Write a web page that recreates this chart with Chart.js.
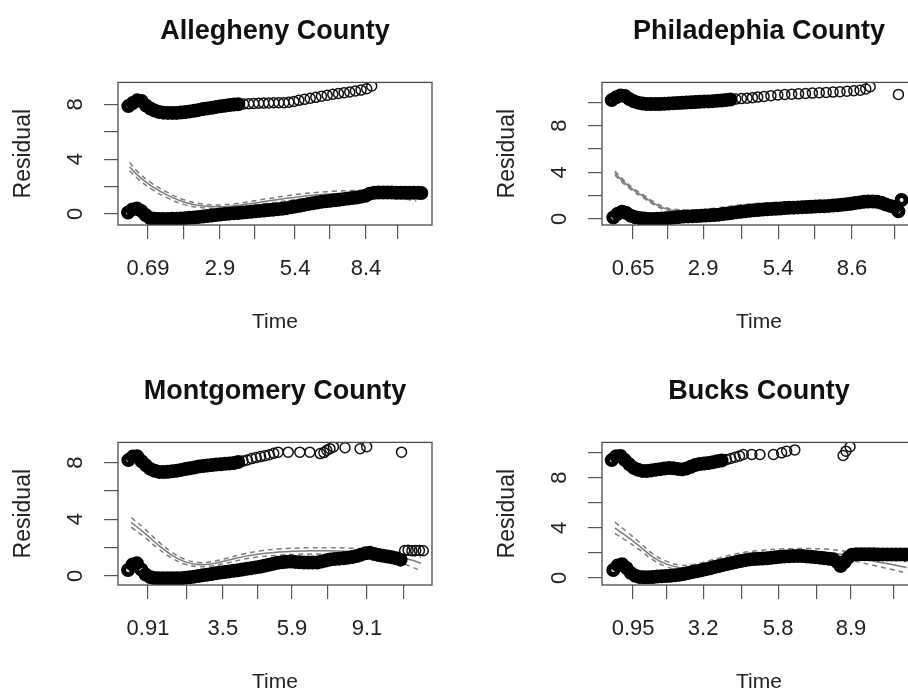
<!DOCTYPE html>
<html><head><meta charset="utf-8">
<script src="https://cdn.jsdelivr.net/npm/chart.js@4.4.1/dist/chart.umd.min.js"></script>
<style>
html,body{margin:0;padding:0;background:#fff;overflow:hidden;width:908px;height:693px;position:relative;}
canvas{position:absolute;}
</style></head><body>
<canvas id="c1" width="454" height="346" style="left:0px;top:0px"></canvas>
<canvas id="c2" width="454" height="346" style="left:484px;top:0px"></canvas>
<canvas id="c3" width="454" height="346" style="left:0px;top:360px"></canvas>
<canvas id="c4" width="454" height="346" style="left:484px;top:360px"></canvas>
<script>
// ---------- Allegheny County ----------
const alleghenyLowerX = [3.2,4.6,6.0,7.4,8.8,10.2,11.6,13.0,14.4,15.8,17.2,18.6,20.0,21.4,22.8,24.2,25.6,27.0,28.4,29.8,31.2,32.6,34.0,35.4,36.8,38.2,39.6,41.0,42.4,43.8,45.2,46.6,48.0,49.4,50.8,52.2,53.6,55.0,56.4,57.8,59.2,60.6,62.0,63.4,64.8,66.2,67.6,69.0,70.4,71.8,73.2,74.6,76.0,77.4,78.8,80.2,81.6,83.0,84.4,85.8,87.2,88.6,90.0,91.4,92.8,94.2,95.6,96.6];
const alleghenyLowerY = [0.10,0.33,0.40,0.22,-0.08,-0.30,-0.36,-0.38,-0.38,-0.37,-0.36,-0.35,-0.33,-0.31,-0.28,-0.26,-0.22,-0.19,-0.16,-0.12,-0.08,-0.04,-0.01,0.02,0.05,0.07,0.10,0.13,0.16,0.19,0.22,0.25,0.28,0.31,0.35,0.38,0.42,0.48,0.54,0.60,0.66,0.72,0.78,0.83,0.88,0.92,0.96,1.00,1.04,1.08,1.12,1.16,1.20,1.26,1.32,1.48,1.55,1.56,1.56,1.56,1.56,1.55,1.55,1.55,1.54,1.54,1.54,1.53];
const alleghenyUpperX = [3.3,4.7,6.1,7.5,8.9,10.3,11.7,13.1,14.5,15.9,17.3,18.7,20.1,21.5,22.9,24.3,25.7,27.1,28.5,29.9,31.3,32.7,34.1,35.5,36.9,38.3];
const alleghenyUpperY = [7.88,8.10,8.30,8.25,7.92,7.70,7.55,7.45,7.40,7.38,7.38,7.38,7.41,7.45,7.49,7.54,7.60,7.66,7.71,7.76,7.82,7.87,7.91,7.95,7.99,8.01];
const alleghenyOpenX = [40.0,41.6,43.2,44.8,46.4,48.0,49.6,51.2,52.8,54.4,56.0,57.6,59.4,61.2,63.0,64.8,66.6,68.4,70.2,72.0,73.8,75.6,77.4,79.2,80.8];
const alleghenyOpenY = [8.03,8.05,8.07,8.09,8.10,8.11,8.12,8.12,8.13,8.16,8.22,8.30,8.37,8.45,8.52,8.60,8.67,8.74,8.80,8.86,8.91,8.98,9.05,9.15,9.35];
const alleghenyFitX = [3.7,6.4,10.6,15.9,21.2,26.5,31.8,37.2,42.5,47.8,53.1,58.4,63.7,69.0,74.3,79.6,84.9,90.2,95.0];
const alleghenyFit = [3.45,2.80,2.05,1.35,0.85,0.60,0.52,0.60,0.76,0.95,1.12,1.28,1.40,1.48,1.52,1.53,1.48,1.38,1.25];
const alleghenyFitHi = [3.75,3.05,2.27,1.55,1.02,0.74,0.65,0.74,0.92,1.12,1.30,1.46,1.58,1.66,1.71,1.73,1.70,1.63,1.55];
const alleghenyFitLo = [3.15,2.55,1.83,1.15,0.68,0.46,0.39,0.46,0.60,0.78,0.94,1.10,1.22,1.30,1.33,1.33,1.26,1.13,0.95];
const alleghenyTickPos = [9.55,21.0,32.5,43.6,56.4,67.5,79.0,88.9];
const alleghenyTickLabels = ['0.69','','2.9','','5.4','','8.4',''];
const alleghenyYTicks = [0,2,4,6,8];
const alleghenyYLabels = ['0','','4','','8'];

// ---------- Philadelphia County ----------
const philadelphiaLowerX = [3.6,5.0,6.4,7.8,9.2,10.6,12.0,13.4,14.8,16.2,17.6,19.0,20.4,21.8,23.2,24.6,26.0,27.4,28.8,30.2,31.6,33.0,34.4,35.8,37.2,38.6,40.0,41.4,42.8,44.2,45.6,47.0,48.4,49.8,51.2,52.6,54.0,55.4,56.8,58.2,59.6,61.0,62.4,63.8,65.2,66.6,68.0,69.4,70.8,72.2,73.6,75.0,76.4,77.8,79.2,80.6,82.0,83.4,84.8,86.2,87.6,89.0,90.4,91.8,93.2,94.4,95.4];
const philadelphiaLowerY = [0.12,0.45,0.62,0.50,0.28,0.15,0.08,0.03,0.00,-0.01,0.01,0.03,0.06,0.09,0.12,0.16,0.20,0.22,0.24,0.25,0.27,0.29,0.31,0.33,0.37,0.42,0.47,0.52,0.57,0.62,0.66,0.70,0.74,0.77,0.80,0.83,0.86,0.88,0.90,0.93,0.95,0.97,0.99,1.01,1.02,1.04,1.06,1.08,1.10,1.12,1.15,1.18,1.22,1.26,1.30,1.36,1.42,1.47,1.50,1.50,1.48,1.38,1.24,1.12,1.02,0.65,1.62];
const philadelphiaUpperX = [3.1,4.5,5.9,7.3,8.7,10.1,11.5,12.9,14.3,15.7,17.1,18.5,19.9,21.3,22.7,24.1,25.5,26.9,28.3,29.7,31.1,32.5,33.9,35.3,36.7,38.1,39.5,40.9];
const philadelphiaUpperY = [10.20,10.45,10.60,10.55,10.30,10.10,9.98,9.90,9.87,9.86,9.86,9.87,9.89,9.91,9.93,9.95,9.97,9.99,10.01,10.03,10.05,10.07,10.09,10.11,10.14,10.17,10.21,10.25];
const philadelphiaOpenX = [42.6,44.4,46.2,47.9,49.6,51.6,53.8,56.0,58.2,60.4,62.6,64.8,67.0,69.2,71.4,73.6,75.8,78.0,80.2,82.2,84.0,85.4,94.4];
const philadelphiaOpenY = [10.29,10.33,10.37,10.41,10.46,10.52,10.58,10.64,10.68,10.71,10.74,10.77,10.80,10.83,10.86,10.89,10.92,10.96,11.00,11.05,11.15,11.35,10.69];
const philadelphiaFitX = [4.1,6.8,10.0,13.2,16.3,19.5,22.7,27.0,31.0,35.0,40.0,45.0,50.0,55.0,60.0,65.0,70.0,75.0,80.0,85.0,90.0,95.0];
const philadelphiaFit = [3.94,3.20,2.50,1.93,1.38,0.95,0.72,0.62,0.64,0.75,0.92,1.08,1.18,1.25,1.30,1.33,1.36,1.39,1.41,1.40,1.34,1.25];
const philadelphiaFitHi = [4.12,3.36,2.64,2.06,1.50,1.07,0.84,0.74,0.77,0.89,1.07,1.24,1.35,1.42,1.47,1.50,1.53,1.56,1.59,1.60,1.56,1.50];
const philadelphiaFitLo = [3.76,3.04,2.36,1.80,1.26,0.83,0.60,0.50,0.51,0.61,0.77,0.92,1.01,1.08,1.13,1.16,1.19,1.22,1.23,1.20,1.12,1.00];
const philadelphiaTickPos = [9.9,21.0,32.2,44.6,56.1,67.8,79.6,93.3];
const philadelphiaTickLabels = ['0.65','','2.9','','5.4','','8.6',''];
const philadelphiaYTicks = [0,2,4,6,8,10];
const philadelphiaYLabels = ['0','','4','','8',''];

// ---------- Montgomery County ----------
const montgomeryLowerX = [3.2,4.6,6.0,7.4,8.8,10.2,11.6,13.0,14.4,15.8,17.2,18.6,20.0,21.4,22.8,24.2,25.6,27.0,28.4,29.8,31.2,32.6,34.0,35.4,36.8,38.2,39.6,41.0,42.4,43.8,45.2,46.6,48.0,49.4,50.8,52.2,53.6,55.0,56.4,57.8,59.2,60.6,62.0,63.4,64.8,66.2,67.6,69.0,70.4,71.8,73.2,74.6,76.0,77.4,78.8,80.2,81.6,83.0,84.4,85.8,87.2,88.6,90.0];
const montgomeryLowerY = [0.42,0.80,0.90,0.45,0.10,-0.08,-0.15,-0.17,-0.17,-0.17,-0.17,-0.17,-0.16,-0.13,-0.09,-0.05,0.00,0.04,0.09,0.14,0.19,0.24,0.28,0.32,0.36,0.40,0.45,0.50,0.55,0.60,0.65,0.72,0.79,0.86,0.93,0.97,1.00,1.01,0.99,0.96,0.94,0.94,0.94,0.95,1.01,1.09,1.16,1.20,1.22,1.25,1.29,1.33,1.40,1.50,1.60,1.63,1.55,1.48,1.42,1.37,1.31,1.24,1.15];
const montgomeryUpperX = [3.3,4.7,6.1,7.5,8.9,10.3,11.7,13.1,14.5,15.9,17.3,18.7,20.1,21.5,22.9,24.3,25.7,27.1,28.5,29.9,31.3,32.7,34.1,35.5,36.9,38.3];
const montgomeryUpperY = [8.17,8.42,8.45,8.09,7.80,7.55,7.42,7.34,7.33,7.35,7.38,7.42,7.48,7.54,7.59,7.65,7.72,7.76,7.79,7.82,7.86,7.88,7.91,7.94,7.97,8.04];
const montgomeryOpenX = [39.8,41.2,42.6,44.0,45.4,46.8,48.2,49.6,51.0,54.2,57.9,61.1,64.4,65.6,66.5,67.5,68.6,72.3,77.1,79.2,90.3,91.3,92.4,93.6,94.8,96.0,97.2];
const montgomeryOpenY = [8.10,8.18,8.28,8.35,8.42,8.48,8.55,8.65,8.73,8.73,8.73,8.73,8.63,8.70,8.87,8.98,9.10,9.04,8.97,9.11,8.73,1.79,1.82,1.78,1.80,1.79,1.78];
const montgomeryFitX = [4.2,8.5,12.7,17.0,21.2,25.5,29.7,35.0,40.3,45.6,51.0,56.3,61.6,66.9,72.2,77.5,82.8,88.1,93.4,96.5];
const montgomeryFit = [3.78,3.02,2.20,1.49,1.01,0.80,0.85,1.10,1.38,1.57,1.68,1.74,1.77,1.77,1.74,1.68,1.58,1.40,1.12,0.90];
const montgomeryFitHi = [4.12,3.32,2.45,1.70,1.18,0.95,1.00,1.27,1.57,1.78,1.90,1.96,1.99,1.99,1.97,1.92,1.85,1.65,1.45,1.30];
const montgomeryFitLo = [3.44,2.72,1.95,1.28,0.84,0.65,0.70,0.93,1.19,1.36,1.46,1.52,1.55,1.55,1.51,1.44,1.31,1.05,0.65,0.35];
const montgomeryTickPos = [9.55,22.0,33.4,44.3,55.4,66.9,79.3,90.8];
const montgomeryTickLabels = ['0.91','','3.5','','5.9','','9.1',''];
const montgomeryYTicks = [0,2,4,6,8];
const montgomeryYLabels = ['0','','4','','8'];

// ---------- Bucks County ----------
const bucksLowerX = [3.6,5.0,6.4,7.8,9.2,10.6,12.0,13.4,14.8,16.2,17.6,19.0,20.4,21.8,23.2,24.6,26.0,27.4,28.8,30.2,31.6,33.0,34.4,35.8,37.2,38.6,40.0,41.4,42.8,44.2,45.6,47.0,48.4,49.8,51.2,52.6,54.0,55.4,56.8,58.2,59.6,61.0,62.4,63.8,65.2,66.6,68.0,69.4,70.8,72.2,73.6,75.0,76.0,77.2,78.4,79.6,81.0,82.4,83.8,85.2,86.6,88.0,89.4,90.8,92.2,93.6,95.0,96.4,97.8];
const bucksLowerY = [0.64,1.00,1.10,0.80,0.40,0.18,0.08,0.05,0.06,0.08,0.11,0.13,0.15,0.17,0.21,0.26,0.32,0.40,0.47,0.54,0.61,0.69,0.78,0.87,0.95,1.04,1.12,1.20,1.28,1.35,1.42,1.48,1.51,1.53,1.55,1.57,1.61,1.65,1.69,1.72,1.74,1.75,1.76,1.75,1.72,1.69,1.66,1.62,1.58,1.54,1.49,1.25,0.95,1.25,1.62,1.85,1.88,1.88,1.88,1.88,1.88,1.87,1.87,1.87,1.87,1.86,1.86,1.86,1.86];
const bucksUpperX = [3.1,4.5,5.9,7.3,8.7,10.1,11.5,12.9,14.3,15.7,17.1,18.5,19.9,21.3,22.7,24.1,25.5,26.9,28.3,29.7,31.1,32.5,33.9,35.3,36.7,38.1];
const bucksUpperY = [9.39,9.70,9.72,9.39,9.05,8.77,8.62,8.53,8.52,8.57,8.63,8.67,8.72,8.76,8.74,8.69,8.65,8.72,8.86,9.00,9.07,9.12,9.16,9.22,9.29,9.36];
const bucksOpenX = [39.6,41.0,42.4,43.8,45.0,47.7,50.3,54.6,57.2,58.8,61.4,76.8,77.7,79.0];
const bucksOpenY = [9.43,9.52,9.62,9.72,9.84,9.84,9.84,9.84,9.97,10.10,10.20,9.76,10.10,10.45];
const bucksFitX = [4.1,7.9,12.1,16.3,20.6,24.8,29.1,34.4,39.7,45.0,50.3,55.6,60.9,66.2,71.5,76.8,82.1,87.4,92.7,97.0];
const bucksFit = [3.97,3.31,2.50,1.65,1.10,0.82,0.90,1.20,1.52,1.78,1.93,2.03,2.08,2.08,2.03,1.85,1.58,1.30,1.05,0.82];
const bucksFitHi = [4.45,3.70,2.80,1.90,1.32,1.02,1.08,1.40,1.75,2.03,2.20,2.30,2.34,2.34,2.30,2.15,1.95,1.72,1.50,1.30];
const bucksFitLo = [3.55,2.95,2.22,1.42,0.90,0.64,0.72,1.00,1.30,1.54,1.68,1.77,1.82,1.82,1.76,1.55,1.25,0.95,0.65,0.38];
const bucksTickPos = [9.9,20.7,32.2,44.3,56.1,68.5,79.3,93.0];
const bucksTickLabels = ['0.95','','3.2','','5.8','','8.9',''];
const bucksYTicks = [0,2,4,6,8,10];
const bucksYLabels = ['0','','4','','8',''];

const FONT = '"Liberation Sans", Arial, Helvetica, sans-serif';

const boxPlugin = {
  id: 'rbox',
  afterDraw(chart) {
    const a = chart.chartArea, ctx = chart.ctx;
    ctx.save();
    ctx.strokeStyle = '#4a4a4a';
    ctx.lineWidth = 1.3;
    ctx.strokeRect(a.left, a.top, a.right - a.left, a.bottom - a.top);
    ctx.restore();
  }
};

function pts(xs, ys) {
  const out = [];
  for (let i = 0; i < xs.length && i < ys.length; i++) out.push({x: xs[i], y: ys[i]});
  return out;
}

function makePanel(id, p) {
  const dense = {pointRadius: 4.5, pointBorderWidth: 5, pointBorderColor: '#000', pointBackgroundColor: 'rgba(0,0,0,0)', showLine: false, clip: 0};
  const open = {pointRadius: 5, pointBorderWidth: 1.5, pointBorderColor: '#111', pointBackgroundColor: 'rgba(0,0,0,0)', showLine: false, clip: 0};
  const lineBase = {type: 'line', pointRadius: 0, borderColor: '#7c7c7c', borderWidth: 1.5, fill: false, tension: 0.4, clip: 0};
  new Chart(document.getElementById(id), {
    type: 'scatter',
    data: {datasets: [
      Object.assign({data: pts(p.upperX, p.upperY)}, dense),
      Object.assign({data: pts(p.lowerX, p.lowerY)}, dense),
      Object.assign({data: pts(p.openX, p.openY)}, open),
      Object.assign({data: pts(p.fitX, p.fit)}, lineBase),
      Object.assign({data: pts(p.fitX, p.hi), borderDash: [5, 4]}, lineBase),
      Object.assign({data: pts(p.fitX, p.lo), borderDash: [5, 4]}, lineBase)
    ]},
    options: {
      responsive: false, animation: false, events: [],
      layout: {padding: {top: 0, left: 0, right: 22, bottom: 0}},
      plugins: {
        legend: {display: false}, tooltip: {enabled: false},
        title: {display: true, text: p.title, fullSize: false, color: '#111',
          font: {family: FONT, size: 27, weight: 'bold'}, padding: {top: 15, bottom: 35}}
      },
      scales: {
        x: {
          type: 'linear', min: 0, max: 100,
          afterBuildTicks: (s) => { s.ticks = p.xTicks.map(v => ({value: v})); },
          afterFit: (s) => { s.height = 121; },
          ticks: {autoSkip: false, maxRotation: 0, minRotation: 0, padding: 17, color: '#222',
            font: {family: FONT, size: 22}, callback: (v, i) => p.xLabels[i]},
          grid: {drawOnChartArea: false, drawTicks: true, tickLength: 14, color: '#555', lineWidth: 1.2},
          border: {display: false},
          title: {display: true, text: 'Time', color: '#222', font: {family: FONT, size: 21}, padding: {top: 0, bottom: 11}}
        },
        y: {
          type: 'linear', min: p.yMin, max: p.yMax,
          afterBuildTicks: (s) => { s.ticks = p.yTicks.map(v => ({value: v})); },
          afterFit: (s) => { s.width = 118; },
          ticks: {autoSkip: false, minRotation: 90, maxRotation: 90, crossAlign: 'center', padding: 22, color: '#222',
            font: {family: FONT, size: 22}, callback: (v, i) => p.yLabels[i]},
          grid: {drawOnChartArea: false, drawTicks: true, tickLength: 14, color: '#555', lineWidth: 1.2},
          border: {display: false},
          title: {display: true, text: 'Residual', color: '#222', font: {family: FONT, size: 23}, padding: {top: 10, bottom: 0}}
        }
      }
    },
    plugins: [boxPlugin]
  });
}

makePanel('c1', {title: 'Allegheny County',
  upperX: alleghenyUpperX, upperY: alleghenyUpperY, lowerX: alleghenyLowerX, lowerY: alleghenyLowerY,
  openX: alleghenyOpenX, openY: alleghenyOpenY, fitX: alleghenyFitX, fit: alleghenyFit, hi: alleghenyFitHi, lo: alleghenyFitLo,
  xTicks: alleghenyTickPos, xLabels: alleghenyTickLabels, yTicks: alleghenyYTicks, yLabels: alleghenyYLabels,
  yMin: -0.81, yMax: 9.61});
makePanel('c2', {title: 'Philadephia County',
  upperX: philadelphiaUpperX, upperY: philadelphiaUpperY, lowerX: philadelphiaLowerX, lowerY: philadelphiaLowerY,
  openX: philadelphiaOpenX, openY: philadelphiaOpenY, fitX: philadelphiaFitX, fit: philadelphiaFit, hi: philadelphiaFitHi, lo: philadelphiaFitLo,
  xTicks: philadelphiaTickPos, xLabels: philadelphiaTickLabels, yTicks: philadelphiaYTicks, yLabels: philadelphiaYLabels,
  yMin: -0.52, yMax: 11.72});
makePanel('c3', {title: 'Montgomery County',
  upperX: montgomeryUpperX, upperY: montgomeryUpperY, lowerX: montgomeryLowerX, lowerY: montgomeryLowerY,
  openX: montgomeryOpenX, openY: montgomeryOpenY, fitX: montgomeryFitX, fit: montgomeryFit, hi: montgomeryFitHi, lo: montgomeryFitLo,
  xTicks: montgomeryTickPos, xLabels: montgomeryTickLabels, yTicks: montgomeryYTicks, yLabels: montgomeryYLabels,
  yMin: -0.64, yMax: 9.42});
makePanel('c4', {title: 'Bucks County',
  upperX: bucksUpperX, upperY: bucksUpperY, lowerX: bucksLowerX, lowerY: bucksLowerY,
  openX: bucksOpenX, openY: bucksOpenY, fitX: bucksFitX, fit: bucksFit, hi: bucksFitHi, lo: bucksFitLo,
  xTicks: bucksTickPos, xLabels: bucksTickLabels, yTicks: bucksYTicks, yLabels: bucksYLabels,
  yMin: -0.56, yMax: 10.8});
</script>
</body></html>
